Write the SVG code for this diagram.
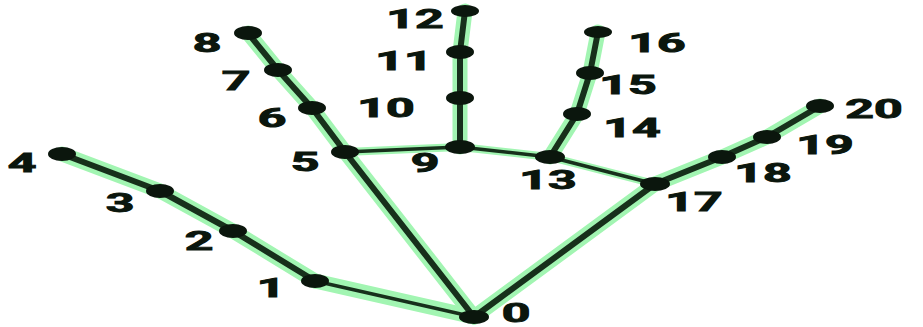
<svg xmlns="http://www.w3.org/2000/svg" width="923" height="327" viewBox="0 0 923 327">
<style>
.glow line{stroke:#a2f5b2;stroke-width:15;stroke-linecap:round}
.glow line.p{stroke-width:8}
.bones line{stroke:#17301b;stroke-linecap:round}
.f{stroke-width:6}
.p{stroke-width:3.5}
.node ellipse{fill:#0b160d}
.node text{font-family:Roboto,"Liberation Sans",sans-serif;font-weight:bold;font-size:25px;fill:#0b160d;stroke:#0b160d;stroke-width:0.9;text-anchor:middle}
</style>
<rect width="923" height="327" fill="#fff"/>
<g id="connectors">
<g class="glow">
<line x1="474" y1="317" x2="315" y2="281"/><line x1="315" y1="281" x2="233" y2="231"/><line x1="233" y1="231" x2="160" y2="191"/><line x1="160" y1="191" x2="62" y2="154"/>
<line x1="474" y1="317" x2="345" y2="152"/><line x1="345" y1="152" x2="312" y2="108"/><line x1="312" y1="108" x2="278" y2="70"/><line x1="278" y1="70" x2="248" y2="33"/>
<line class="p" x1="345" y1="152" x2="460" y2="147"/><line x1="460" y1="147" x2="460" y2="98"/><line x1="460" y1="98" x2="460" y2="52"/><line x1="460" y1="52" x2="465" y2="11"/>
<line class="p" x1="460" y1="147" x2="550" y2="157"/><line x1="550" y1="157" x2="577" y2="114"/><line x1="577" y1="114" x2="590" y2="73"/><line x1="590" y1="73" x2="598" y2="32"/>
<line class="p" x1="550" y1="157" x2="655" y2="184"/><line x1="655" y1="184" x2="722" y2="157"/><line x1="722" y1="157" x2="767" y2="137"/><line x1="767" y1="137" x2="820" y2="106"/>
<line x1="474" y1="317" x2="655" y2="184"/>
</g>
<g class="bones">
<line class="p" x1="474" y1="317" x2="315" y2="281"/><line class="f" x1="315" y1="281" x2="233" y2="231"/><line class="f" x1="233" y1="231" x2="160" y2="191"/><line class="f" x1="160" y1="191" x2="62" y2="154"/>
<line class="f" x1="474" y1="317" x2="345" y2="152"/><line class="f" x1="345" y1="152" x2="312" y2="108"/><line class="f" x1="312" y1="108" x2="278" y2="70"/><line class="f" x1="278" y1="70" x2="248" y2="33"/>
<line class="p" x1="345" y1="152" x2="460" y2="147"/><line class="f" x1="460" y1="147" x2="460" y2="98"/><line class="f" x1="460" y1="98" x2="460" y2="52"/><line class="f" x1="460" y1="52" x2="465" y2="11"/>
<line class="p" x1="460" y1="147" x2="550" y2="157"/><line class="f" x1="550" y1="157" x2="577" y2="114"/><line class="f" x1="577" y1="114" x2="590" y2="73"/><line class="f" x1="590" y1="73" x2="598" y2="32"/>
<line class="p" x1="550" y1="157" x2="655" y2="184"/><line class="f" x1="655" y1="184" x2="722" y2="157"/><line class="f" x1="722" y1="157" x2="767" y2="137"/><line class="f" x1="767" y1="137" x2="820" y2="106"/>
<line class="f" x1="474" y1="317" x2="655" y2="184"/>
</g>
</g>
<g id="n0" class="node"><ellipse cx="474" cy="317" rx="15" ry="7"/><text transform="translate(516,322) scale(2,1)">0</text></g>
<g id="n1" class="node"><ellipse cx="315" cy="281" rx="14" ry="7"/><text transform="translate(271,297) scale(2,1)">1</text></g>
<g id="n2" class="node"><ellipse cx="233" cy="231" rx="14" ry="7"/><text transform="translate(199,250) scale(2,1)">2</text></g>
<g id="n3" class="node"><ellipse cx="160" cy="191" rx="14" ry="7"/><text transform="translate(120,212) scale(2,1)">3</text></g>
<g id="n4" class="node"><ellipse cx="62" cy="154" rx="14" ry="7"/><text transform="translate(22,172) scale(2,1)">4</text></g>
<g id="n5" class="node"><ellipse cx="345" cy="152" rx="14" ry="7"/><text transform="translate(305,171) scale(2,1)">5</text></g>
<g id="n6" class="node"><ellipse cx="312" cy="108" rx="14" ry="7"/><text transform="translate(272,127) scale(2,1)">6</text></g>
<g id="n7" class="node"><ellipse cx="278" cy="70" rx="14" ry="7"/><text transform="translate(236,90) scale(2,1)">7</text></g>
<g id="n8" class="node"><ellipse cx="248" cy="33" rx="14" ry="7"/><text transform="translate(207,52) scale(2,1)">8</text></g>
<g id="n9" class="node"><ellipse cx="460" cy="147" rx="15" ry="7"/><text transform="translate(425,172) scale(2,1)">9</text></g>
<g id="n10" class="node"><ellipse cx="460" cy="98" rx="14" ry="7"/><text transform="translate(386,117) scale(2,1)">10</text></g>
<g id="n11" class="node"><ellipse cx="460" cy="52" rx="14" ry="7"/><text transform="translate(404,70) scale(2,1)">11</text></g>
<g id="n12" class="node"><ellipse cx="465" cy="11" rx="14" ry="6"/><text transform="translate(415,28) scale(2,1)">12</text></g>
<g id="n13" class="node"><ellipse cx="550" cy="157" rx="15" ry="7"/><text transform="translate(548,189) scale(2,1)">13</text></g>
<g id="n14" class="node"><ellipse cx="577" cy="114" rx="14" ry="7"/><text transform="translate(632,137) scale(2,1)">14</text></g>
<g id="n15" class="node"><ellipse cx="590" cy="73" rx="14" ry="7"/><text transform="translate(628,94) scale(2,1)">15</text></g>
<g id="n16" class="node"><ellipse cx="598" cy="32" rx="14" ry="6"/><text transform="translate(657,52) scale(2,1)">16</text></g>
<g id="n17" class="node"><ellipse cx="655" cy="184" rx="15" ry="7"/><text transform="translate(694,211) scale(2,1)">17</text></g>
<g id="n18" class="node"><ellipse cx="722" cy="157" rx="14" ry="7"/><text transform="translate(763,182) scale(2,1)">18</text></g>
<g id="n19" class="node"><ellipse cx="767" cy="137" rx="14" ry="7"/><text transform="translate(825,154) scale(2,1)">19</text></g>
<g id="n20" class="node"><ellipse cx="820" cy="106" rx="14" ry="7"/><text transform="translate(874,118) scale(2,1)">20</text></g>
</svg>
